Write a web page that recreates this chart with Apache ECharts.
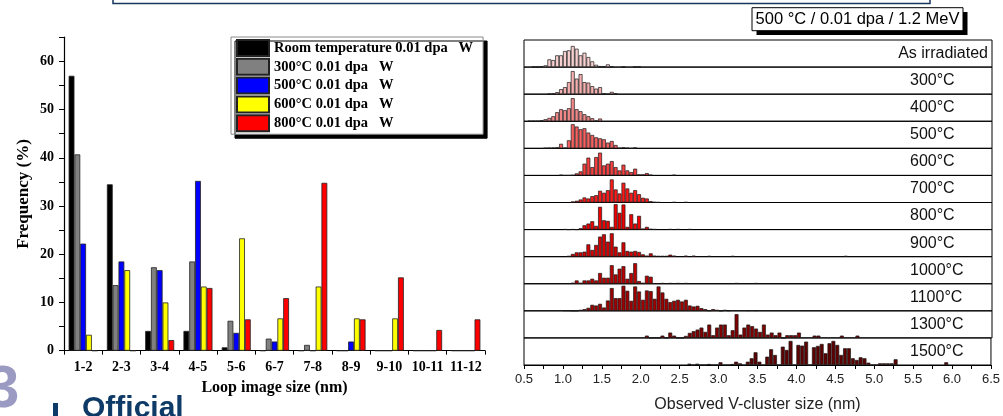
<!DOCTYPE html>
<html>
<head>
<meta charset="utf-8">
<script src="https://cdn.jsdelivr.net/npm/echarts@6/dist/echarts.min.js"></script>
<style>
  html, body { margin: 0; padding: 0; background: #fff; }
  #main { width: 1003px; height: 416px; }
</style>
</head>
<body>
<div id="main"></div>
<script>
// ---- left panel: loop size distributions (%)
var sizeBins = ['1-2', '2-3', '3-4', '4-5', '5-6', '6-7', '7-8', '8-9', '9-10', '10-11', '11-12'];
var loopNames = ['Room temperature 0.01 dpa   W', '300°C 0.01 dpa   W', '500°C 0.01 dpa   W', '600°C 0.01 dpa   W', '800°C 0.01 dpa   W'];
var loopColors = ['#000000', '#808080', '#0000ff', '#ffff00', '#ff0000'];
var rtData   = [57, 34.5, 4.1, 4.1, 0.7, 0, 0, 0, 0, 0, 0];
var t300Data = [40.7, 13.6, 17.3, 18.5, 6.2, 2.5, 1.2, 0, 0, 0, 0];
var t500Data = [22.2, 18.5, 16.7, 35.2, 3.7, 1.9, 0, 1.9, 0, 0, 0];
var t600Data = [3.3, 16.7, 10, 13.3, 23.3, 6.7, 13.3, 6.7, 6.7, 0, 0];
var t800Data = [0, 0, 2.2, 13, 6.5, 10.9, 34.8, 6.5, 15.2, 4.3, 6.5];
var loopData = [rtData, t300Data, t500Data, t600Data, t800Data];

// ---- right panel: V-cluster size histograms, 0.05 nm bins (arb. units)
var binSize = 0.05;
var rowNames = ['As irradiated', '300°C', '400°C', '500°C', '600°C', '700°C', '800°C', '900°C', '1000°C', '1100°C', '1300°C', '1500°C'];
var rowColors = ['#f8d0d0', '#f5b0b0', '#f28888', '#f66060', '#f83e3e', '#ff1a1a', '#f00000', '#d60000', '#bb0000', '#9e0000', '#800000', '#5e0000'];
var rowStart = [0.60, 0.80, 0.55, 0.75, 0.95, 1.10, 1.00, 1.05, 1.10, 1.00, 2.05, 2.60];
var rowCounts = [
  [0.3, 0.3, 0.7, 1.7, 7.7, 7, 11.7, 11.7, 16, 16.7, 21, 18.3, 11.7, 14.3, 10, 5.7, 2.3, 1, 0.7, 2.7, 0.7],
  [0.3, 0.7, 2, 5, 7, 12, 23, 15.5, 20, 12, 11.5, 8, 5.5, 7, 1, 0, 2.3, 0.7],
  [0.3, 0.3, 0.3, 1, 2, 3.3, 5, 9, 12, 11, 13, 23, 12, 10, 7, 5, 3, 0.7, 2.7],
  [0.3, 0.5, 0.7, 1, 4.5, 0.7, 8, 24, 21.7, 19, 20, 15.7, 13.3, 11, 10, 9, 5.7, 7.3, 3.3, 0.5, 1, 0.5, 0, 0.3],
  [0.5, 0, 0, 0.3, 2, 4, 11.7, 17.7, 8.3, 18.3, 22.7, 10, 11.7, 14.3, 8.3, 5, 10.7, 5, 3.3, 6.7, 1, 1, 2.3, 0.7],
  [1, 1.7, 3, 5, 4, 6.3, 7.3, 11.7, 9.7, 12.3, 23, 13, 9, 19.7, 14, 9.7, 12.3, 8.3, 4.7, 4, 1.3, 0.5, 0.3],
  [0.3, 0, 0.3, 0, 1.3, 4.3, 6, 8.3, 3.7, 22.7, 9.3, 8.7, 2.7, 25.3, 16.7, 25, 2.7, 15.3, 6, 13.7, 1, 2.7, 0.7, 0.4],
  [0.7, 2.7, 4.3, 4.3, 5, 12.3, 6.7, 11.7, 20, 22.3, 15, 23.3, 10, 4.3, 14.3, 5.7, 5, 5.7, 4.7, 2.3, 1, 3.3, 1, 0.7, 0.7, 0.7, 2, 1],
  [1, 3.3, 1, 3.3, 3.3, 5, 3.3, 10.7, 6, 6, 18.5, 9.3, 15, 17.5, 5, 10.7, 20.5, 2.7, 1, 8, 7],
  [0.3, 0.3, 0, 0, 1, 1.7, 3, 6, 5.3, 7, 3.3, 10.3, 22.7, 12.7, 12.7, 25, 20, 10, 24.3, 19.3, 11, 20.3, 19.7, 12, 24.3, 18.3, 12, 8.7, 10, 11, 9.3, 11, 5.3, 4.3, 5, 2.7, 1.7, 0.3, 1.7, 1, 0, 1, 0.3],
  [2.3, 0, 0, 0, 2.3, 0, 5.3, 2.3, 0, 0, 2, 5, 6.7, 8.3, 10.3, 6, 13.3, 2.7, 10.3, 13.3, 13.3, 2.7, 7.7, 23.7, 3.3, 10.3, 13.3, 11.7, 9.3, 6, 13.3, 3.3, 5.3, 2.7, 5.3, 0, 2.7, 2.7, 2.7, 5.3],
  [1.3, 0, 1.3, 0, 0, 1, 0, 0, 2.7, 0, 0, 1, 3.3, 1.7, 0, 3.3, 6.7, 12.7, 3.3, 0, 8.3, 15.7, 10, 0, 18.3, 15, 24, 0, 20, 19.3, 23.3, 0, 17.7, 19, 21, 11.7, 21.7, 24, 20, 10, 16.7, 16.7, 6.7, 5, 7.7, 6.7, 2.3, 0, 0, 1.7, 1.7, 1.7, 1.7, 5.7]
];
// isolated bins far from the main group: [bin start (nm), count]
var rowStrays = [
  [[1.75, 0.3], [1.90, 0.3], [1.95, 0.3]],
  [],
  [],
  [[1.90, 0.3]],
  [[2.40, 0.5]],
  [[2.40, 0.4], [2.55, 0.4]],
  [[2.35, 0.4], [2.45, 0.4], [2.60, 0.4]],
  [[2.55, 1], [2.65, 1], [2.85, 0.7], [3.15, 0.7], [4.60, 0.7]],
  [[2.25, 0.7], [2.35, 0.7], [2.45, 0.7], [2.55, 0.7], [3.20, 0.7], [3.45, 0.7]],
  [[3.35, 0.5], [3.45, 0.5]],
  [[4.20, 2.3], [4.25, 2.3], [4.55, 2.3], [4.75, 2.3]],
  [[5.90, 2.7]]
];
var clusterTicks = [0.5, 6.5];

var chart = echarts.init(document.getElementById('main'));

var serif = "'Liberation Serif', 'Times New Roman', serif";
var sans = "'Liberation Sans', Arial, sans-serif";

var grids = [{ left: 64, top: 37.2, width: 421, height: 313.5 }];
var xAxes = [{
  type: 'category', gridIndex: 0, data: sizeBins,
  axisLine: { lineStyle: { color: '#000', width: 1.2 } },
  axisTick: { show: true, length: 4, lineStyle: { color: '#000' } },
  axisLabel: { color: '#000', fontFamily: serif, fontWeight: 'bold', fontSize: 14, margin: 10, interval: 0 },
  name: 'Loop image size (nm)', nameLocation: 'middle', nameGap: 27,
  nameTextStyle: { color: '#000', fontFamily: serif, fontWeight: 'bold', fontSize: 16 }
}];
var yAxes = [{
  type: 'value', gridIndex: 0, min: 0, max: 65, interval: 5,
  axisLine: { show: true, lineStyle: { color: '#000', width: 1.2 } },
  axisTick: { show: true, length: 5, lineStyle: { color: '#000' } },
  splitLine: { show: false },
  axisLabel: {
    color: '#000', fontFamily: serif, fontWeight: 'bold', fontSize: 14, margin: 10,
    formatter: function (v) { return v % 10 === 0 ? v : ''; }
  },
  name: 'Frequency (%)', nameLocation: 'middle', nameGap: 32,
  nameTextStyle: { color: '#000', fontFamily: serif, fontWeight: 'bold', fontSize: 17 }
}];
var series = [];
for (var s = 0; s < loopData.length; s++) {
  series.push({
    name: loopNames[s], type: 'bar', xAxisIndex: 0, yAxisIndex: 0,
    data: loopData[s], barWidth: 5.8, barGap: '0%',
    itemStyle: { color: loopColors[s], borderColor: '#222', borderWidth: 0.8 },
    silent: true
  });
}

// histogram rows
var histTop = 40, histBottom = 365, histLeft = 524, histWidth = 468;
var rowH = (histBottom - histTop) / rowNames.length;
var binPx = histWidth / ((clusterTicks[1] - clusterTicks[0]) / binSize);
var graphics = [];

for (var r = 0; r < rowNames.length; r++) {
  var gi = r + 1;
  var last = r === rowNames.length - 1;
  grids.push({
    left: histLeft, width: histWidth, top: histTop + r * rowH, height: rowH,
    show: true, borderColor: '#000', borderWidth: 1, backgroundColor: 'transparent'
  });
  xAxes.push({
    type: 'value', gridIndex: gi, min: clusterTicks[0], max: clusterTicks[1], interval: 0.5,
    show: true,
    axisLine: { show: last, lineStyle: { color: '#000', width: 1 } },
    axisTick: { show: last, length: 4, lineStyle: { color: '#000' } },
    minorTick: { show: last, splitNumber: 2, length: 4, lineStyle: { color: '#000' } },
    splitLine: { show: false },
    axisLabel: {
      show: last, color: '#222', fontFamily: sans, fontSize: 13, margin: 8,
      formatter: function (v) { return v.toFixed(1); }
    },
    name: last ? 'Observed V-cluster size (nm)' : '', nameLocation: 'middle', nameGap: 32,
    nameTextStyle: { color: '#222', fontFamily: sans, fontSize: 16 }
  });
  yAxes.push({ type: 'value', gridIndex: gi, min: 0, max: 27, show: false });

  var pts = [];
  for (var k = 0; k < rowCounts[r].length; k++) {
    var b = Math.round((rowStart[r] + k * binSize) * 100) / 100;
    pts.push([b + binSize / 2, rowCounts[r][k]]);
  }
  rowStrays[r].forEach(function (p) { pts.push([p[0] + binSize / 2, p[1]]); });

  series.push({
    type: 'bar', xAxisIndex: gi, yAxisIndex: gi, data: pts, barWidth: binPx,
    itemStyle: { color: rowColors[r], borderColor: '#1a1a1a', borderWidth: 0.7 },
    silent: true
  });

  var cy = histTop + (r + 0.5) * rowH;
  graphics.push({
    type: 'text', x: r === 0 ? 988 : 910, y: cy,
    style: {
      text: rowNames[r], font: '16px ' + sans, fill: '#111',
      align: r === 0 ? 'right' : 'left', verticalAlign: 'middle',
      textAlign: r === 0 ? 'right' : 'left', textVerticalAlign: 'middle'
    }
  });
}

// frame fragment at top and header tag
graphics.push({ type: 'rect', shape: { x: 113, y: -20, width: 817, height: 23.5 },
  style: { fill: '#fff', stroke: '#16365c', lineWidth: 1.5 } });
graphics.push({ type: 'rect', shape: { x: 756.5, y: 12, width: 211, height: 23 }, style: { fill: '#000' } });
graphics.push({ type: 'rect', shape: { x: 752, y: 7.7, width: 211, height: 23 },
  style: { fill: '#fff', stroke: '#000', lineWidth: 1 } });
graphics.push({ type: 'text', x: 857.5, y: 19.5,
  style: { text: '500 °C / 0.01 dpa / 1.2 MeV', font: '16.5px ' + sans, fill: '#000',
    align: 'center', verticalAlign: 'middle', textAlign: 'center', textVerticalAlign: 'middle' } });

// logo fragments at bottom left
graphics.push({ type: 'text', x: -14, y: 420,
  style: { text: '3', font: 'bold 60px ' + sans, fill: '#9a9ac2',
    align: 'left', verticalAlign: 'bottom', textAlign: 'left', textVerticalAlign: 'bottom' } });
graphics.push({ type: 'rect', shape: { x: 53, y: 403, width: 5, height: 14 }, style: { fill: '#0d3a66' } });
graphics.push({ type: 'text', x: 82, y: 424,
  style: { text: 'Official', font: 'bold 30px ' + sans, fill: '#0d3a66',
    align: 'left', verticalAlign: 'bottom', textAlign: 'left', textVerticalAlign: 'bottom' } });

var option = {
  animation: false,
  backgroundColor: '#fff',
  grid: grids,
  xAxis: xAxes,
  yAxis: yAxes,
  legend: {
    data: loopNames, orient: 'vertical', left: 231, top: 37,
    itemWidth: 32, itemHeight: 16, itemGap: 0.8, selectedMode: false,
    padding: [2, 10, 2, 5],
    backgroundColor: '#fff', borderColor: '#8a8a8a', borderWidth: 1,
    shadowColor: '#000', shadowBlur: 0, shadowOffsetX: 4, shadowOffsetY: 4,
    icon: 'rect',
    textStyle: { color: '#000', fontFamily: serif, fontWeight: 'bold', fontSize: 14.5, lineHeight: 16 }
  },
  series: series,
  graphic: graphics
};
chart.setOption(option);
</script>
</body>
</html>
